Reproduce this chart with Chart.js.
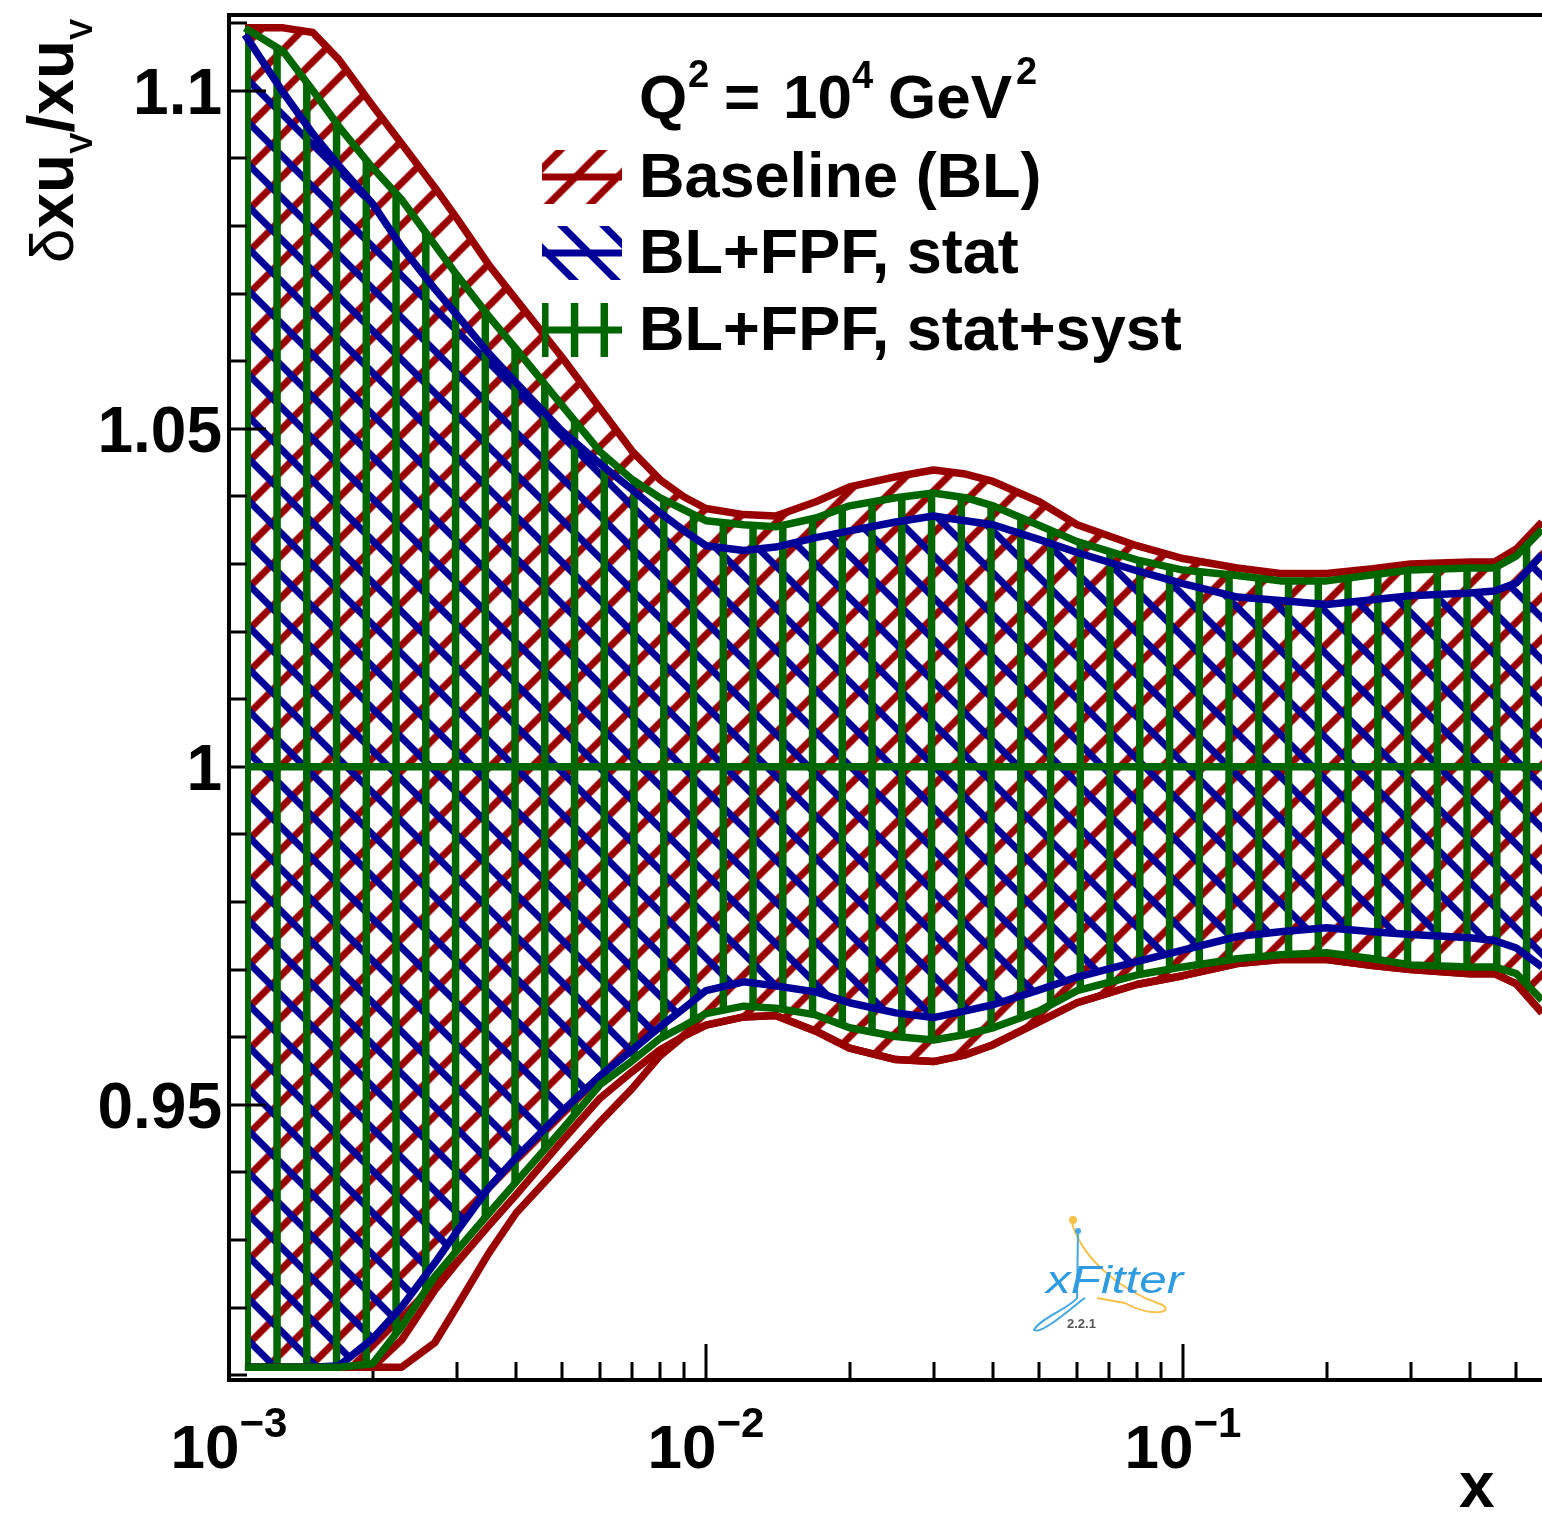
<!DOCTYPE html>
<html>
<head>
<meta charset="utf-8">
<script src="https://cdn.jsdelivr.net/npm/chart.js@4.4.1/dist/chart.umd.min.js"></script>
<style>
  html, body { margin: 0; padding: 0; background: #fff; }
  #pdfChart { display: block; }
</style>
</head>
<body>
<canvas id="pdfChart" width="1542" height="1513"></canvas>
<script>
// x grid of the bands
const xGrid = [0.00108, 0.0013, 0.0015, 0.0017, 0.002, 0.0023, 0.0027, 0.003, 0.0035, 0.004,
  0.005, 0.006, 0.007, 0.008, 0.009, 0.01, 0.012, 0.014, 0.017, 0.02,
  0.025, 0.03, 0.035, 0.04, 0.05, 0.06, 0.08, 0.1, 0.13, 0.16,
  0.2, 0.25, 0.3, 0.4, 0.45, 0.5, 0.566];

// Baseline (BL) band
const baselineUp = [1.1093, 1.1093, 1.1086, 1.1046, 1.0978, 1.0922, 1.0857, 1.0812, 1.0743, 1.0691,
  1.0605, 1.0530, 1.0467, 1.0425, 1.0399, 1.0382, 1.0373, 1.0371, 1.0392, 1.0414,
  1.0429, 1.0439, 1.0433, 1.0422, 1.0392, 1.0358, 1.0327, 1.0308, 1.0294, 1.0286,
  1.0286, 1.0293, 1.0300, 1.0303, 1.0303, 1.0322, 1.0362];
const baselineLowInner = [0.9112, 0.9112, 0.9112, 0.9112, 0.9112, 0.9152, 0.9226, 0.9266, 0.9321, 0.9367,
  0.9447, 0.9510, 0.9549, 0.9581, 0.9602, 0.9618, 0.9630, 0.9632, 0.9609, 0.9584,
  0.9567, 0.9564, 0.9574, 0.9589, 0.9623, 0.9651, 0.9678, 0.9691, 0.9709, 0.9715,
  0.9715, 0.9706, 0.9700, 0.9694, 0.9694, 0.9679, 0.9636];
const baselineLow = [0.9112, 0.9112, 0.9112, 0.9112, 0.9112, 0.9112, 0.9148, 0.9201, 0.9280, 0.9340,
  0.9414, 0.9475, 0.9524, 0.9572, 0.9602, 0.9618, 0.9630, 0.9632, 0.9609, 0.9584,
  0.9567, 0.9564, 0.9574, 0.9589, 0.9623, 0.9651, 0.9678, 0.9691, 0.9709, 0.9715,
  0.9715, 0.9706, 0.9700, 0.9694, 0.9694, 0.9679, 0.9636];

// BL+FPF, stat band
const statUp = [1.1083, 1.0997, 1.0936, 1.0889, 1.0833, 1.0769, 1.0707, 1.0669, 1.0612, 1.0568,
  1.0496, 1.0448, 1.0410, 1.0376, 1.0349, 1.0327, 1.0320, 1.0325, 1.0339, 1.0349,
  1.0362, 1.0371, 1.0364, 1.0358, 1.0336, 1.0317, 1.0290, 1.0271, 1.0251, 1.0246,
  1.0240, 1.0247, 1.0253, 1.0257, 1.0260, 1.0272, 1.0314];
const statLow = [0.9112, 0.9112, 0.9112, 0.9114, 0.9154, 0.9201, 0.9266, 0.9312, 0.9377, 0.9422,
  0.9491, 0.9543, 0.9581, 0.9615, 0.9643, 0.9669, 0.9682, 0.9676, 0.9667, 0.9651,
  0.9636, 0.9629, 0.9639, 0.9648, 0.9670, 0.9689, 0.9712, 0.9729, 0.9749, 0.9756,
  0.9762, 0.9756, 0.9752, 0.9747, 0.9743, 0.9732, 0.9704];

// BL+FPF, stat+syst band
const systUp = [1.1093, 1.1058, 1.1000, 1.0947, 1.0886, 1.0839, 1.0772, 1.0728, 1.0667, 1.0618,
  1.0534, 1.0466, 1.0425, 1.0398, 1.0380, 1.0364, 1.0358, 1.0355, 1.0368, 1.0386,
  1.0398, 1.0405, 1.0398, 1.0386, 1.0357, 1.0333, 1.0306, 1.0291, 1.0283, 1.0275,
  1.0275, 1.0284, 1.0291, 1.0294, 1.0294, 1.0312, 1.0351];
const systLow = [0.9112, 0.9112, 0.9112, 0.9112, 0.9117, 0.9172, 0.9246, 0.9284, 0.9339, 0.9386,
  0.9464, 0.9530, 0.9565, 0.9598, 0.9617, 0.9635, 0.9646, 0.9643, 0.9633, 0.9614,
  0.9601, 0.9596, 0.9604, 0.9614, 0.9639, 0.9669, 0.9692, 0.9704, 0.9716, 0.9722,
  0.9725, 0.9716, 0.9707, 0.9704, 0.9704, 0.9694, 0.9655];

const centralValue = 1;

const legendLabels = ['Baseline (BL)', 'BL+FPF, stat', 'BL+FPF, stat+syst'];
const yMajorTicks = [0.95, 1, 1.05, 1.1];
const yMajorLabels = ['0.95', '1', '1.05', '1.1'];
const yMinorTicks = [0.91, 0.92, 0.93, 0.94, 0.96, 0.97, 0.98, 0.99, 1.01, 1.02, 1.03, 1.04, 1.06, 1.07, 1.08, 1.09, 1.11];
const xMajorTicks = [0.001, 0.01, 0.1];
const xMajorExps = ['\u22123', '\u22122', '\u22121'];
const xMinorTicks = [0.002, 0.003, 0.004, 0.005, 0.006, 0.007, 0.008, 0.009,
  0.02, 0.03, 0.04, 0.05, 0.06, 0.07, 0.08, 0.09, 0.2, 0.3, 0.4, 0.5];

const RED = '#990000';
const BLUE = '#000099';
const GREEN = '#006600';

const canvas = document.getElementById('pdfChart');
const ctx = canvas.getContext('2d');

// ROOT-like hatch patterns, anchored to the canvas
function makeHatch(kind, color, width, shift) {
    const tile = document.createElement('canvas');
    const t = tile.getContext('2d');
    if (kind === '|') {
        tile.width = 119; tile.height = 16;
        t.strokeStyle = color; t.lineWidth = width;
        for (let k = 0; k < 4; k++) {
            const x = 9.3 + k * 29.75;
            t.beginPath(); t.moveTo(x, -2); t.lineTo(x, 18); t.stroke();
        }
    } else {
        tile.width = 42; tile.height = 42;
        t.strokeStyle = color; t.lineWidth = width;
        for (const c of [-42, 0, 42, 84]) {
            t.beginPath();
            if (kind === '/') { t.moveTo(c + 8, -8); t.lineTo(-8, c + 8); }
            else { t.moveTo(c - 8, -8); t.lineTo(c + 50, 50); }
            t.stroke();
        }
    }
    const pat = ctx.createPattern(tile, 'repeat');
    if (shift) pat.setTransform(new DOMMatrix().translate(shift, 0));
    return pat;
}

const redHatch = makeHatch('/', RED, 7, 38.5);
const blueHatch = makeHatch('\\', BLUE, 7, 0);
const greenHatch = makeHatch('|', GREEN, 7.5, 0);

const pts = arr => xGrid.map((x, i) => ({ x: x, y: arr[i] }));

function richText(c, x, y, parts) {
    let cx = x;
    parts.forEach(p => {
        c.font = p.font;
        c.fillText(p.t, cx, y + (p.dy || 0));
        cx += c.measureText(p.t).width + (p.gap || 0);
    });
    return cx;
}
function richWidth(c, parts) {
    let w = 0;
    parts.forEach(p => { c.font = p.font; w += c.measureText(p.t).width + (p.gap || 0); });
    return w;
}

const F = '"Liberation Sans", Arial, sans-serif';

const rootFrame = {
    id: 'rootFrame',
    beforeDatasetsDraw(chart) {
        const c = chart.ctx;
        const xs = chart.scales.x, ys = chart.scales.y;
        const a = chart.chartArea;
        c.save();
        c.strokeStyle = '#000';
        c.lineWidth = 3;
        // y ticks
        yMinorTicks.forEach(v => {
            const py = Math.round(ys.getPixelForValue(v));
            c.beginPath(); c.moveTo(a.left, py); c.lineTo(a.left + 18, py); c.stroke();
        });
        yMajorTicks.forEach(v => {
            const py = Math.round(ys.getPixelForValue(v));
            c.beginPath(); c.moveTo(a.left, py); c.lineTo(a.left + 37, py); c.stroke();
        });
        // x ticks
        xMinorTicks.forEach(v => {
            const px = Math.round(xs.getPixelForValue(v));
            c.beginPath(); c.moveTo(px, a.bottom); c.lineTo(px, a.bottom - 18); c.stroke();
        });
        xMajorTicks.forEach(v => {
            const px = Math.round(xs.getPixelForValue(v));
            c.beginPath(); c.moveTo(px, a.bottom); c.lineTo(px, a.bottom - 36); c.stroke();
        });
        c.restore();
    },
    afterDraw(chart) {
        const c = chart.ctx;
        const xs = chart.scales.x, ys = chart.scales.y;
        const a = chart.chartArea;
        c.save();
        // frame
        c.strokeStyle = '#000';
        c.lineWidth = 4;
        c.beginPath();
        c.moveTo(a.right, a.top); c.lineTo(a.left, a.top); c.lineTo(a.left, a.bottom); c.lineTo(a.right, a.bottom);
        c.stroke();

        c.fillStyle = '#000';
        c.textBaseline = 'alphabetic';
        // y labels
        c.font = 'bold 64px ' + F;
        c.textAlign = 'right';
        yMajorTicks.forEach((v, i) => {
            c.fillText(yMajorLabels[i], 222, ys.getPixelForValue(v) + 23);
        });
        // x labels
        c.textAlign = 'left';
        xMajorTicks.forEach((v, i) => {
            const parts = [{ t: '10', font: 'bold 62px ' + F }, { t: xMajorExps[i], font: 'bold 42px ' + F, dy: -31 }];
            const w = richWidth(c, parts);
            richText(c, xs.getPixelForValue(v) - w / 2, 1468, parts);
        });
        c.font = 'bold 64px ' + F;
        c.fillText('x', 1459, 1507);

        // y title, rotated
        c.save();
        c.translate(73, 263);
        c.rotate(-Math.PI / 2);
        richText(c, 0, 0, [
            { t: '\u03b4', font: '62px ' + F },
            { t: 'xu', font: 'bold 64px ' + F },
            { t: 'V', font: 'bold 32px ' + F, dy: 19 },
            { t: '/xu', font: 'bold 64px ' + F },
            { t: 'V', font: 'bold 32px ' + F, dy: 19 }
        ]);
        c.restore();

        // Q^2 label
        const big = 'bold 62px ' + F, sup = 'bold 38px ' + F;
        c.font = big; c.fillText('Q', 639, 118);
        c.font = sup; c.fillText('2', 688, 87);
        c.font = big; c.fillText('=', 724, 118);
        c.fillText('10', 783, 118);
        c.font = sup; c.fillText('4', 852, 88);
        c.font = big; c.fillText('GeV', 888, 118);
        c.font = sup; c.fillText('2', 1016, 84);

        // legend
        const entries = [
            { pat: redHatch, col: RED, yc: 177 },
            { pat: blueHatch, col: BLUE, yc: 253 },
            { pat: greenHatch, col: GREEN, yc: 330 }
        ];
        entries.forEach((e, i) => {
            c.fillStyle = e.pat;
            c.fillRect(542, e.yc - 27, 80, 54);
            c.strokeStyle = e.col;
            c.lineWidth = 7;
            c.beginPath(); c.moveTo(542, e.yc); c.lineTo(622, e.yc); c.stroke();
            c.fillStyle = '#000';
            c.font = 'bold 63px ' + F;
            c.fillText(legendLabels[i], 639, e.yc + 20);
        });

        // xFitter logo
        c.lineWidth = 2;
        c.strokeStyle = '#f6c14b';
        c.beginPath();
        c.moveTo(1071, 1219);
        c.bezierCurveTo(1080, 1258, 1120, 1290, 1160, 1304);
        c.bezierCurveTo(1178, 1312, 1150, 1318, 1125, 1303);
        c.lineTo(1097, 1298);
        c.stroke();
        c.fillStyle = '#f6c14b';
        c.beginPath(); c.arc(1073, 1220, 4, 0, Math.PI * 2); c.fill();
        c.strokeStyle = '#45a6e4';
        c.beginPath();
        c.moveTo(1078, 1232);
        c.lineTo(1077, 1298);
        c.bezierCurveTo(1070, 1308, 1040, 1318, 1034, 1330);
        c.bezierCurveTo(1040, 1334, 1060, 1318, 1082, 1300);
        c.lineTo(1085, 1298);
        c.stroke();
        c.fillStyle = '#45a6e4';
        c.beginPath(); c.arc(1078, 1231, 3, 0, Math.PI * 2); c.fill();
        c.save();
        c.translate(1046, 1293);
        c.scale(1.3, 1);
        c.fillStyle = '#2f9be0';
        c.font = 'italic 38px ' + F;
        c.fillText('xFitter', 0, 0);
        c.restore();
        c.fillStyle = '#555';
        c.font = 'bold 13px ' + F;
        c.fillText('2.2.1', 1067, 1328);
        c.restore();
    }
};

const lineBase = { pointRadius: 0, tension: 0, borderJoinStyle: 'round', borderCapStyle: 'butt' };

new Chart(ctx, {
    type: 'line',
    data: {
        datasets: [
            Object.assign({}, lineBase, { label: 'central', data: [{ x: xGrid[0], y: centralValue }, { x: xGrid[xGrid.length - 1], y: centralValue }], borderColor: GREEN, borderWidth: 7.5, fill: false, order: 0 }),
            Object.assign({}, lineBase, { label: legendLabels[2], data: pts(systUp), borderColor: GREEN, borderWidth: 7.5, backgroundColor: greenHatch, fill: 2, order: 1 }),
            Object.assign({}, lineBase, { label: 'syst low', data: pts(systLow), borderColor: GREEN, borderWidth: 7.5, fill: false, order: 1 }),
            Object.assign({}, lineBase, { label: legendLabels[1], data: pts(statUp), borderColor: BLUE, borderWidth: 7.5, backgroundColor: blueHatch, fill: 4, order: 2 }),
            Object.assign({}, lineBase, { label: 'stat low', data: pts(statLow), borderColor: BLUE, borderWidth: 7.5, fill: false, order: 2 }),
            Object.assign({}, lineBase, { label: legendLabels[0], data: pts(baselineUp), borderColor: RED, borderWidth: 7.5, backgroundColor: redHatch, fill: 6, order: 3 }),
            Object.assign({}, lineBase, { label: 'BL low inner', data: pts(baselineLowInner), borderColor: RED, borderWidth: 7.5, fill: false, order: 3 }),
            Object.assign({}, lineBase, { label: 'BL low', data: pts(baselineLow), borderColor: RED, borderWidth: 7.5, fill: false, order: 3 })
        ]
    },
    options: {
        responsive: false,
        animation: false,
        devicePixelRatio: 1,
        events: [],
        layout: { padding: { left: 229, right: 0, top: 15, bottom: 133 } },
        scales: {
            x: { type: 'logarithmic', min: 0.001, max: 0.566, display: false },
            y: { type: 'linear', min: 0.9093, max: 1.1112, display: false }
        },
        plugins: {
            legend: { display: false },
            tooltip: { enabled: false },
            filler: { drawTime: 'beforeDatasetsDraw' }
        }
    },
    plugins: [rootFrame]
});
</script>
</body>
</html>
